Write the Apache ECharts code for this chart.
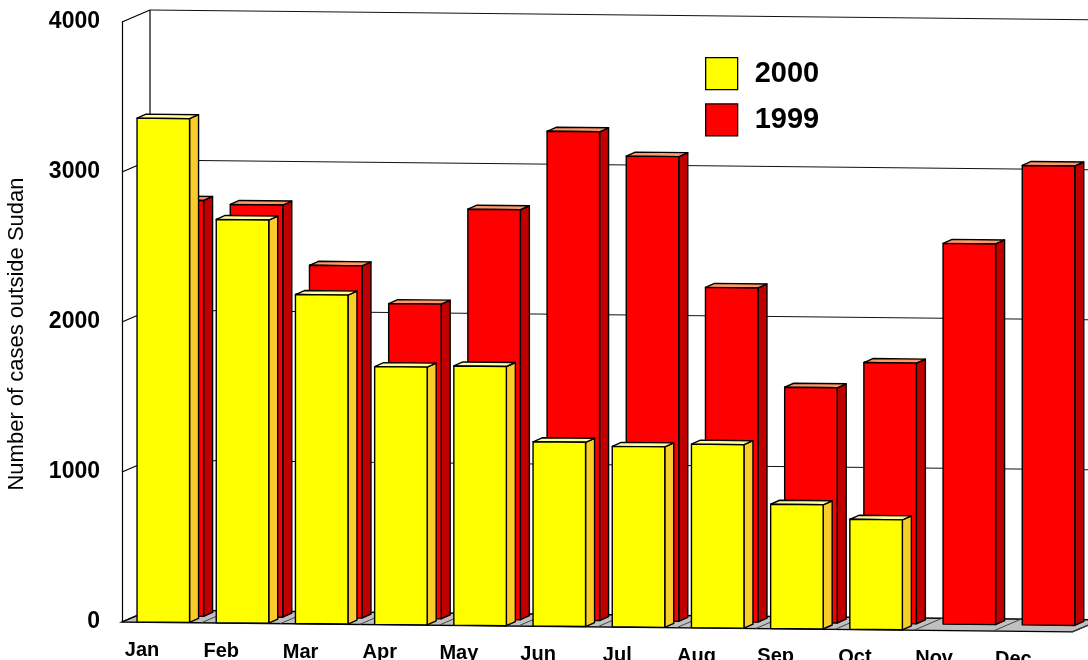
<!DOCTYPE html>
<html>
<head>
<meta charset="utf-8">
<script src="https://cdn.jsdelivr.net/npm/echarts@6/dist/echarts.min.js"></script>
<style>
  html, body { margin: 0; padding: 0; background: #fff; }
  #chart { width: 1088px; height: 660px; }
</style>
</head>
<body>
<div id="chart"></div>
<script>
// ---- data ----
const months = ['Jan', 'Feb', 'Mar', 'Apr', 'May', 'Jun', 'Jul', 'Aug', 'Sep', 'Oct', 'Nov', 'Dec'];
const cases2000 = [3360, 2690, 2195, 1720, 1730, 1230, 1205, 1225, 830, 735, null, null];
const cases1999 = [2775, 2750, 2350, 2100, 2735, 3260, 3100, 2230, 1570, 1740, 2540, 3065];
const yTicks = [0, 1000, 2000, 3000, 4000];

const FONT = 'Arial, "Liberation Sans", Helvetica, sans-serif';
const SKEW = 0.0104;        // slight perspective slope of the floor
const WALL = [28, -12];     // depth offset of the back wall
const BAR_DEPTH = [9, -4];  // depth of each bar

const chart = echarts.init(document.getElementById('chart'));

function barRender(row) {
  const col = row === 0
    ? { front: '#ffff00', side: '#f9cc2a', top: '#ffff99' }
    : { front: '#ff0000', side: '#c00000', top: '#ff9966' };
  return function (params, api) {
    const i = api.value(0), v = api.value(1);
    const c = api.coord([i, 0]);
    const top = api.coord([i, v])[1];
    const bw = api.size([1, 0])[0];
    const g0 = c[0] - (i + 0.5) * bw;
    const dx = row === 0 ? 0 : bw * 0.177;
    const dy = row === 0 ? 0 : -6;
    const xL = c[0] - 0.31 * bw + dx;
    const xR = xL + 0.663 * bw;
    const S = x => (x - dx - g0) * SKEW + dy;
    const yb = x => c[1] - 0.3 + S(x);
    const yt = x => top + S(x);
    const ddx = BAR_DEPTH[0], ddy = BAR_DEPTH[1];
    const st = { stroke: '#000', lineWidth: 1.4, lineJoin: 'round' };
    return {
      type: 'group',
      children: [
        { type: 'polygon', shape: { points: [[xR, yb(xR)], [xR + ddx, yb(xR) + ddy], [xR + ddx, yt(xR) + ddy], [xR, yt(xR)]] },
          style: Object.assign({ fill: col.side }, st) },
        { type: 'polygon', shape: { points: [[xL, yt(xL)], [xR, yt(xR)], [xR + ddx, yt(xR) + ddy], [xL + ddx, yt(xL) + ddy]] },
          style: Object.assign({ fill: col.top }, st) },
        { type: 'polygon', shape: { points: [[xL, yb(xL)], [xR, yb(xR)], [xR, yt(xR)], [xL, yt(xL)]] },
          style: Object.assign({ fill: col.front }, st) }
      ]
    };
  };
}

function wallRender(params, api) {
  const v = api.value(1);
  const bw = api.size([1, 0])[0];
  const g0 = api.coord([0, 0])[0] - bw / 2;
  const gR = g0 + months.length * bw;
  const yv = api.coord([0, v])[1];
  const y0 = api.coord([0, 0])[1];
  const yMax = api.coord([0, yTicks[yTicks.length - 1]])[1];
  const sk = x => (x - g0) * SKEW;
  const children = [];
  const lineStyle = { stroke: '#111', lineWidth: 1.2 };
  if (v === 0) {
    children.push({ type: 'polygon', shape: { points: [
      [g0, y0], [gR, y0 + sk(gR)], [gR + WALL[0], y0 + sk(gR) + WALL[1]], [g0 + WALL[0], y0 + WALL[1]]
    ] }, style: { fill: '#c0c0c0', stroke: '#000', lineWidth: 1.3 } });
    for (let k = 0; k <= months.length; k++) {
      const x = g0 + k * bw;
      children.push({ type: 'line', shape: { x1: x, y1: y0 + sk(x), x2: x + WALL[0], y2: y0 + sk(x) + WALL[1] },
        style: { stroke: '#444', lineWidth: 1 } });
    }
    // back-left vertical edge
    children.push({ type: 'line', shape: { x1: g0 + WALL[0], y1: yMax + WALL[1], x2: g0 + WALL[0], y2: y0 + WALL[1] },
      style: { stroke: '#000', lineWidth: 1.2 } });
  } else {
    const xa = g0 + WALL[0], xb = 1110;
    children.push({ type: 'line', shape: { x1: xa, y1: yv + WALL[1], x2: xb, y2: yv + sk(xb - WALL[0]) + WALL[1] },
      style: lineStyle });
  }
  // side wall line
  children.push({ type: 'line', shape: { x1: g0, y1: yv, x2: g0 + WALL[0], y2: yv + WALL[1] },
    style: { stroke: '#000', lineWidth: 1.2 } });
  return { type: 'group', children: children };
}

const option = {
  backgroundColor: '#ffffff',
  animation: false,
  textStyle: { fontFamily: FONT },
  grid: { left: 122, top: 22, bottom: 38, width: 12 * 79.2, containLabel: false, outerBoundsMode: 'none' },
  legend: {
    orient: 'vertical',
    left: 700, top: 52,
    itemWidth: 32, itemHeight: 32, itemGap: 13,
    icon: 'rect',
    textStyle: { fontSize: 29, fontWeight: 'bold', color: '#000', fontFamily: FONT, padding: [0, 0, 0, 12] },
    data: [
      { name: '2000', itemStyle: { color: '#ffff00', borderColor: '#000', borderWidth: 1.3 } },
      { name: '1999', itemStyle: { color: '#ff0000', borderColor: '#000', borderWidth: 1.3 } }
    ]
  },
  xAxis: {
    type: 'category',
    data: months.map((m, i) => ({ value: m, textStyle: { padding: [Math.round(i * 0.8), 39, 0, 0] } })),
    axisLine: { show: false },
    axisTick: { show: false },
    axisLabel: { margin: 18, fontSize: 20, fontWeight: 'bold', color: '#000', fontFamily: FONT, interval: 0 },
    splitLine: { show: false }
  },
  yAxis: {
    type: 'value',
    min: 0, max: 4000, interval: 1000,
    name: 'Number of cases outside Sudan',
    nameLocation: 'middle',
    nameRotate: 90,
    nameGap: 94,
    nameTextStyle: { fontSize: 22, color: '#000', fontFamily: FONT, padding: [0, 24, 0, 0] },
    axisLine: { show: true, lineStyle: { color: '#000', width: 1.2 } },
    axisTick: { show: false },
    splitLine: { show: false },
    axisLabel: { margin: 22, fontSize: 23, fontWeight: 'bold', color: '#000', fontFamily: FONT,
                 padding: [4, 0, 0, 0], formatter: v => String(v) }
  },
  series: [
    {
      type: 'custom', name: 'walls', z: 1, silent: true,
      renderItem: wallRender,
      encode: { x: 0, y: 1 },
      data: yTicks.map(t => [0, t])
    },
    {
      type: 'custom', name: '1999', z: 2,
      itemStyle: { color: '#ff0000' },
      renderItem: barRender(1),
      encode: { x: 0, y: 1 },
      data: cases1999.map((v, i) => [i, v]).filter(d => d[1] != null)
    },
    {
      type: 'custom', name: '2000', z: 3,
      itemStyle: { color: '#ffff00' },
      renderItem: barRender(0),
      encode: { x: 0, y: 1 },
      data: cases2000.map((v, i) => [i, v]).filter(d => d[1] != null)
    }
  ]
};

chart.setOption(option);
</script>
</body>
</html>
